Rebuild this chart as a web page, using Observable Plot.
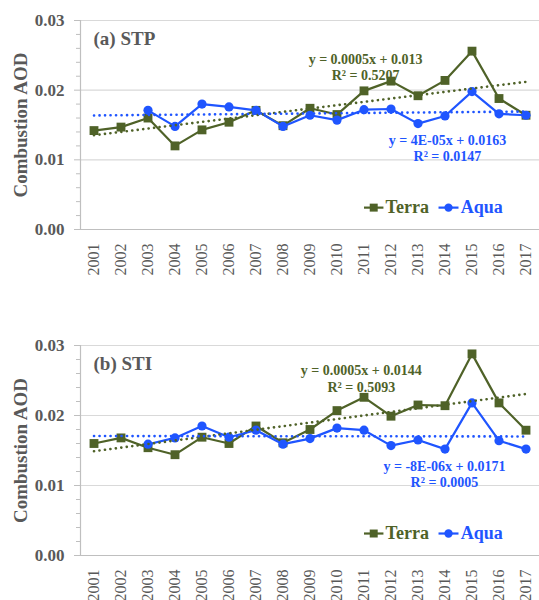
<!DOCTYPE html>
<html>
<head>
<meta charset="utf-8">
<script src="https://cdn.jsdelivr.net/npm/d3@7"></script>
<script src="https://cdn.jsdelivr.net/npm/@observablehq/plot@0.6"></script>
<style>
  html, body { margin: 0; padding: 0; background: #fff; }
  #chart svg { display: block; }
</style>
</head>
<body>
<div id="chart"></div>
<script>
const years = [2001, 2002, 2003, 2004, 2005, 2006, 2007, 2008, 2009, 2010, 2011, 2012, 2013, 2014, 2015, 2016, 2017];
const stpTerra = [0.0142, 0.0147, 0.0160, 0.0120, 0.0143, 0.0154, 0.0171, 0.0149, 0.0174, 0.0165, 0.0199, 0.0213, 0.0192, 0.0214, 0.0256, 0.0188, 0.0164];
const stpAqua  = [null, null, 0.0171, 0.0148, 0.0180, 0.0176, 0.0171, 0.0148, 0.0164, 0.0157, 0.0172, 0.0173, 0.0152, 0.0163, 0.0198, 0.0166, 0.0164];
const stiTerra = [0.0160, 0.0168, 0.0154, 0.0144, 0.0169, 0.0160, 0.0185, 0.0161, 0.0180, 0.0207, 0.0226, 0.0199, 0.0215, 0.0214, 0.0288, 0.0218, 0.0179];
const stiAqua  = [null, null, 0.0159, 0.0168, 0.0185, 0.0169, 0.0179, 0.0159, 0.0167, 0.0182, 0.0179, 0.0157, 0.0165, 0.0152, 0.0218, 0.0164, 0.0152];
const yTicks = [0, 0.01, 0.02, 0.03];
const yMinorTicks = [0.002, 0.004, 0.006, 0.008, 0.012, 0.014, 0.016, 0.018, 0.022, 0.024, 0.026, 0.028];
const seriesNames = ["Terra", "Aqua"];
const panelTitles = ["(a) STP", "(b) STI"];
const stpEquations = [["y = 0.0005x + 0.013", "R² = 0.5207"], ["y = 4E-05x + 0.0163", "R² = 0.0147"]];
const stiEquations = [["y = 0.0005x + 0.0144", "R² = 0.5093"], ["y = -8E-06x + 0.0171", "R² = 0.0005"]];
const yLabel = "Combustion AOD";

const GREEN = "#4f6228";
const BLUE = "#1f55ff";
const TEXT = "#595959";
const FONT = "'Liberation Serif', 'Times New Roman', serif";

function fitEnds(ys) {
  const pts = years.map((x, i) => ({x, y: ys[i]})).filter(d => d.y != null);
  const mx = d3.mean(pts, d => d.x), my = d3.mean(pts, d => d.y);
  const b = d3.sum(pts, d => (d.x - mx) * (d.y - my)) / d3.sum(pts, d => (d.x - mx) ** 2);
  const a = my - b * mx;
  return [years[0], years[years.length - 1]].map(x => ({x, y: a + b * x}));
}

function panel({terra, aqua, title, eqs, marginTop, marginBottom, eqPos}) {
  const tData = years.map((x, i) => ({x, y: terra[i]}));
  const aData = years.map((x, i) => ({x, y: aqua[i]})).filter(d => d.y != null);
  const dotted = {strokeWidth: 2.6, strokeDasharray: "0.1 5.4", strokeLinecap: "round"};
  const legY = 0.00314;
  return Plot.plot({
    width: 539, height: 300,
    marginTop, marginBottom, marginLeft: 80, marginRight: 0,
    x: {type: "linear", domain: [2000.5, 2017.5], axis: null},
    y: {domain: [0, 0.03]},
    style: {fontFamily: FONT, color: TEXT, background: "#fff", overflow: "visible"},
    marks: [
      Plot.ruleY(yTicks.slice(1), {stroke: "#d9d9d9", strokeWidth: 1.2}),
      Plot.ruleY([0], {stroke: "#bfbfbf", strokeWidth: 1.2}),
      Plot.ruleX([2000.5], {y1: 0, y2: 0.03, stroke: "#bfbfbf", strokeWidth: 1.2}),
      Plot.axisY({ticks: yMinorTicks, tickSize: 4, tickFormat: () => "", stroke: "#bfbfbf", label: null}),
      Plot.axisY({ticks: yTicks, tickSize: 6, tickPadding: 10, tickFormat: d3.format(".2f"),
        stroke: "#bfbfbf", fill: TEXT, fontSize: 17, fontWeight: "bold", label: null}),
      Plot.text([yLabel], {frameAnchor: "left", dx: -60, rotate: -90, textAnchor: "middle", lineAnchor: "middle",
        fontSize: 19, fontWeight: "bold", fill: TEXT}),
      Plot.text(years, {x: d => d, frameAnchor: "bottom", dy: 14, rotate: -90, textAnchor: "end", lineAnchor: "middle",
        text: d => String(d), fontSize: 16, fill: TEXT}),
      Plot.text([title], {frameAnchor: "top-left", dx: 13, dy: 18.5, textAnchor: "start", lineAnchor: "middle",
        fontSize: 19, fontWeight: "bold", fill: TEXT}),
      // series
      Plot.line(tData, {x: "x", y: "y", stroke: GREEN, strokeWidth: 2.2}),
      Plot.dot(tData, {x: "x", y: "y", symbol: "square", r: 5, fill: GREEN}),
      Plot.line(aData, {x: "x", y: "y", stroke: BLUE, strokeWidth: 2.2}),
      Plot.dot(aData, {x: "x", y: "y", symbol: "circle", r: 4.6, fill: BLUE}),
      // trends
      Plot.line(fitEnds(terra), {x: "x", y: "y", stroke: GREEN, ...dotted}),
      Plot.line(fitEnds(aqua), {x: "x", y: "y", stroke: BLUE, ...dotted}),
      // equations
      Plot.text(eqs[0], {x: eqPos[0].x, y: (d, i) => eqPos[0].y[i], text: d => d, fill: GREEN,
        fontSize: 14, fontWeight: "bold", lineAnchor: "middle"}),
      Plot.text(eqs[1], {x: eqPos[1].x, y: (d, i) => eqPos[1].y[i], text: d => d, fill: BLUE,
        fontSize: 14, fontWeight: "bold", lineAnchor: "middle"}),
      // legend
      Plot.link([0], {x1: 2011.0, x2: 2011.72, y1: legY, y2: legY, stroke: GREEN, strokeWidth: 2.2}),
      Plot.dot([0], {x: 2011.36, y: legY, symbol: "square", r: 4.5, fill: GREEN}),
      Plot.text([seriesNames[0]], {x: 2011.8, y: legY, textAnchor: "start", lineAnchor: "middle",
        fontSize: 18, fontWeight: "bold", fill: GREEN}),
      Plot.link([0], {x1: 2013.76, x2: 2014.5, y1: legY, y2: legY, stroke: BLUE, strokeWidth: 2.2}),
      Plot.dot([0], {x: 2014.13, y: legY, symbol: "circle", r: 4.2, fill: BLUE}),
      Plot.text([seriesNames[1]], {x: 2014.58, y: legY, textAnchor: "start", lineAnchor: "middle",
        fontSize: 18, fontWeight: "bold", fill: BLUE})
    ]
  });
}

const el = document.getElementById("chart");
el.append(panel({
  terra: stpTerra, aqua: stpAqua, title: panelTitles[0], eqs: stpEquations,
  marginTop: 20, marginBottom: 71,
  eqPos: [{x: 2011.06, y: [0.02443, 0.02214]}, {x: 2014.09, y: [0.01271, 0.01043]}]
}));
el.append(panel({
  terra: stiTerra, aqua: stiAqua, title: panelTitles[1], eqs: stiEquations,
  marginTop: 45, marginBottom: 45,
  eqPos: [{x: 2010.9, y: [0.02643, 0.0240]}, {x: 2013.98, y: [0.01271, 0.01043]}]
}));
</script>
</body>
</html>
